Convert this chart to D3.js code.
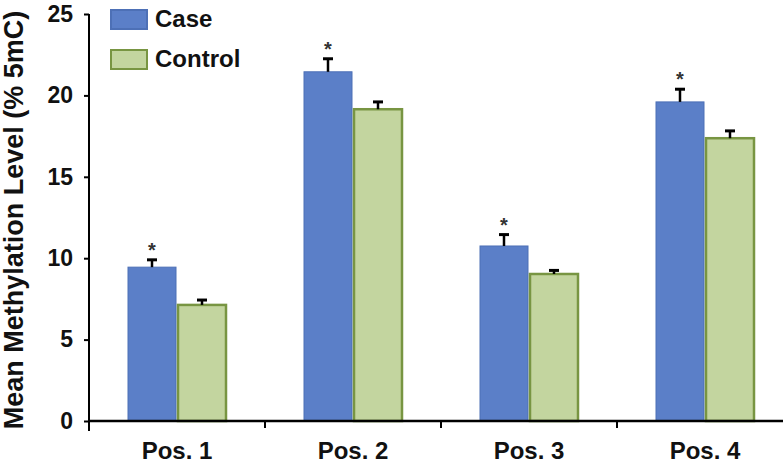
<!DOCTYPE html>
<html>
<head>
<meta charset="utf-8">
<script src="https://cdn.jsdelivr.net/npm/d3@7"></script>
<style>
  body { margin: 0; background: #fff; }
  text { font-family: "Liberation Sans", Arial, sans-serif; font-weight: bold; }
</style>
</head>
<body>
<div id="chart"></div>
<script>
const categories = ["Pos. 1", "Pos. 2", "Pos. 3", "Pos. 4"];
const seriesNames = ["Case", "Control"];
const caseValues = [9.45, 21.45, 10.75, 19.6];
const controlValues = [7.13, 19.15, 9.03, 17.37];
const caseErrors = [0.45, 0.8, 0.7, 0.78];
const controlErrors = [0.3, 0.45, 0.22, 0.45];
const significant = [true, true, true, true];
const yTicks = [0, 5, 10, 15, 20, 25];

const width = 783, height = 466;
const marge = { top: 14, left: 89, bottom: 45 };
const colors = { Case: "#5b7fc8", Control: "#c3d59f" };
const strokes = { Case: "#4d70b6", Control: "#789542" };

const svg = d3.select("#chart").append("svg")
    .attr("width", width).attr("height", height);

const y = d3.scaleLinear().domain([0, 25]).range([height - marge.bottom, marge.top]);
const x = d3.scaleBand().domain(categories).range([marge.left, marge.left + 176 * 4]);
const inner = d3.scaleBand().domain(seriesNames).range([x.bandwidth() / 2 - 50, x.bandwidth() / 2 + 50]);

const data = categories.map((c, i) => ({
    cat: c,
    values: [
        { s: "Case", v: caseValues[i], e: caseErrors[i] },
        { s: "Control", v: controlValues[i], e: controlErrors[i] }
    ],
    sig: significant[i]
}));

// bars
const groups = svg.append("g").selectAll("g").data(data).join("g")
    .attr("transform", d => `translate(${x(d.cat)},0)`);

groups.selectAll("rect").data(d => d.values).join("rect")
    .attr("x", d => inner(d.s) + 1)
    .attr("y", d => y(d.v))
    .attr("width", inner.bandwidth() - 2)
    .attr("height", d => y(0) - y(d.v))
    .attr("fill", d => colors[d.s])
    .attr("stroke", d => strokes[d.s])
    .attr("stroke-width", d => d.s === "Control" ? 2.5 : 1);

// error bars (upper only)
const err = groups.selectAll("g.err").data(d => d.values).join("g").attr("class", "err");
err.append("line")
    .attr("x1", d => inner(d.s) + inner.bandwidth() / 2)
    .attr("x2", d => inner(d.s) + inner.bandwidth() / 2)
    .attr("y1", d => y(d.v))
    .attr("y2", d => y(d.v + d.e))
    .attr("stroke", "#000").attr("stroke-width", 2.5);
err.append("line")
    .attr("x1", d => inner(d.s) + inner.bandwidth() / 2 - 5)
    .attr("x2", d => inner(d.s) + inner.bandwidth() / 2 + 5)
    .attr("y1", d => y(d.v + d.e))
    .attr("y2", d => y(d.v + d.e))
    .attr("stroke", "#000").attr("stroke-width", 3);

// significance stars
groups.filter(d => d.sig).append("text")
    .attr("x", d => inner("Case") + inner.bandwidth() / 2)
    .attr("y", d => y(d.values[0].v + d.values[0].e) - 3)
    .attr("text-anchor", "middle")
    .attr("font-size", 20)
    .attr("fill", "#333")
    .text("*");

// y axis
const yAxis = svg.append("g")
    .attr("transform", `translate(${marge.left},0)`)
    .call(d3.axisLeft(y).tickValues(yTicks).tickSize(5).tickPadding(11));
yAxis.select(".domain").remove();
yAxis.selectAll(".tick line").attr("stroke-width", 2);
yAxis.selectAll(".tick text").attr("font-size", 23).attr("fill", "#111");
svg.append("line")
    .attr("x1", marge.left).attr("x2", marge.left)
    .attr("y1", marge.top).attr("y2", y(0) + 10)
    .attr("stroke", "#000").attr("stroke-width", 2);

// x axis
const boundaries = categories.slice(1).map(c => x(c));
const xAxis = svg.append("g")
    .attr("transform", `translate(0,${y(0)})`);
xAxis.append("line")
    .attr("x1", marge.left).attr("x2", width)
    .attr("stroke", "#000").attr("stroke-width", 2.5);
xAxis.selectAll("line.tk").data(boundaries).join("line")
    .attr("class", "tk")
    .attr("x1", d => d).attr("x2", d => d)
    .attr("y1", 0).attr("y2", 7)
    .attr("stroke", "#000").attr("stroke-width", 2);
xAxis.selectAll("text").data(categories).join("text")
    .attr("x", d => x(d) + x.bandwidth() / 2)
    .attr("y", 38)
    .attr("text-anchor", "middle")
    .attr("font-size", 24)
    .attr("fill", "#111")
    .text(d => d);

// y label
svg.append("text")
    .attr("transform", `translate(23,220) rotate(-90)`)
    .attr("text-anchor", "middle")
    .attr("font-size", 27)
    .attr("fill", "#111")
    .text("Mean Methylation Level (% 5mC)");

// legend
const legend = svg.append("g").selectAll("g").data(seriesNames).join("g")
    .attr("transform", (d, i) => `translate(111,${10 + i * 40})`);
legend.append("rect")
    .attr("width", 36).attr("height", 19)
    .attr("fill", d => colors[d])
    .attr("stroke", d => strokes[d])
    .attr("stroke-width", 2);
legend.append("text")
    .attr("x", 44).attr("y", 17)
    .attr("font-size", 24)
    .attr("fill", "#111")
    .text(d => d);
</script>
</body>
</html>
